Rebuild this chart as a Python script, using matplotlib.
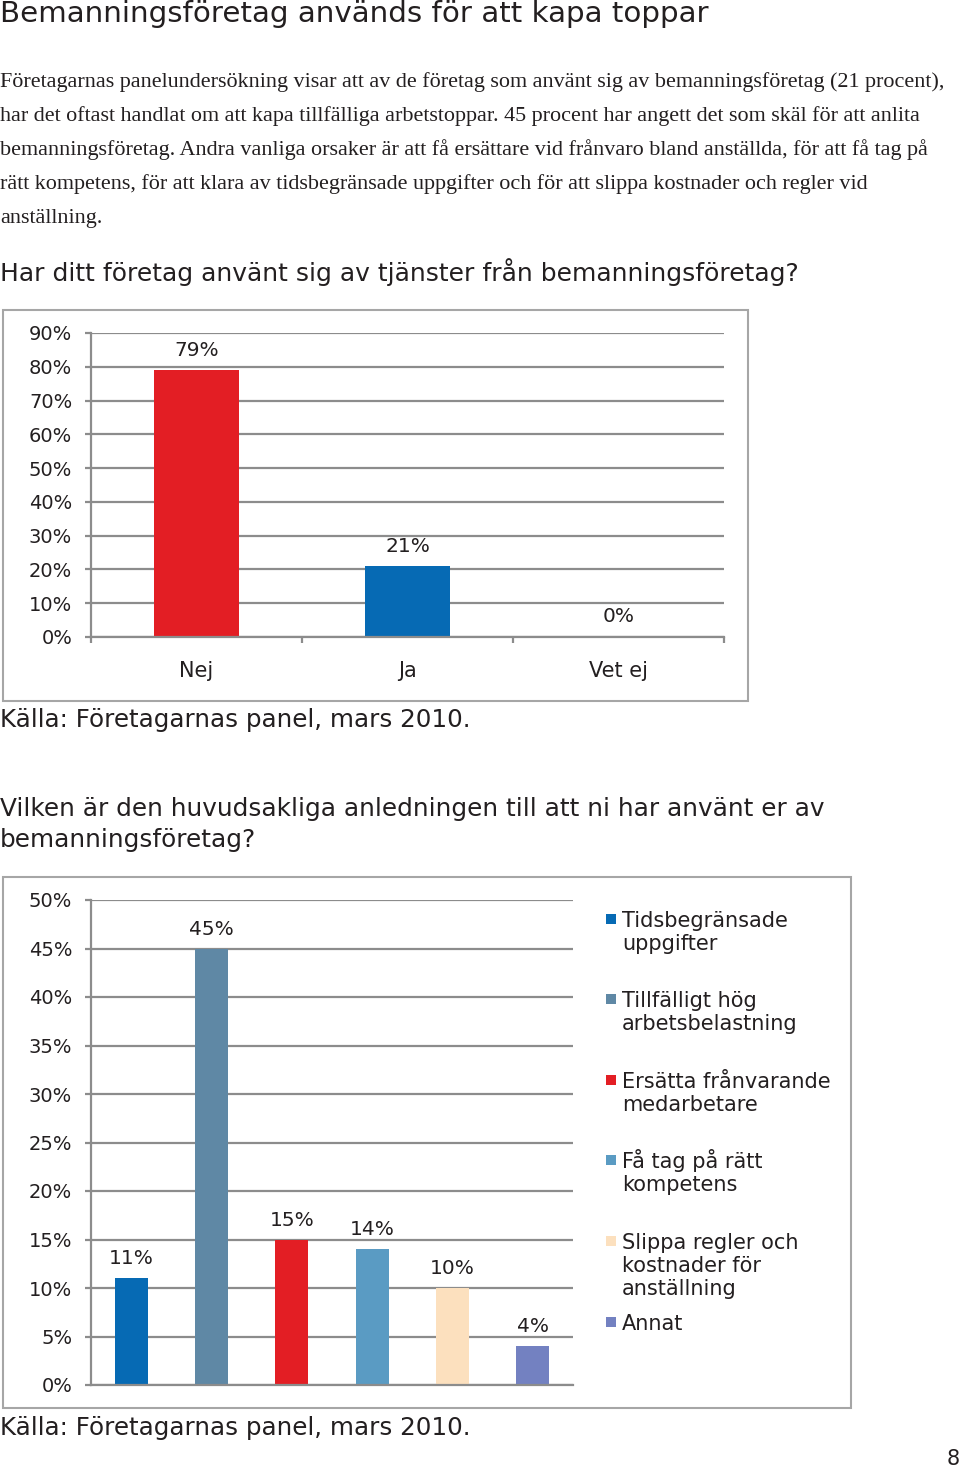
import numpy as np
import matplotlib.pyplot as plt
from matplotlib.patches import Rectangle

W, H = 960, 1468

# chart 1: har ditt företag använt bemanningsföretag?
svar = ["Nej", "Ja", "Vet ej"]
andel_svar = [79, 21, 0]
farg_svar = ["#E31E24", "#066AB4", "#066AB4"]

# chart 2: huvudsaklig anledning
skal = ["Tidsbegränsade\nuppgifter", "Tillfälligt hög\narbetsbelastning",
        "Ersätta frånvarande\nmedarbetare", "Få tag på rätt\nkompetens",
        "Slippa regler och\nkostnader för\nanställning", "Annat"]
andel_skal = [11, 45, 15, 14, 10, 4]
farg_skal = ["#066AB4", "#5F88A5", "#E31E24", "#5A9BC3", "#FCE0BE", "#7381C1"]

stycke = [
    "Företagarnas panelundersökning visar att av de företag som använt sig av bemanningsföretag (21 procent),",
    "har det oftast handlat om att kapa tillfälliga arbetstoppar. 45 procent har angett det som skäl för att anlita",
    "bemanningsföretag. Andra vanliga orsaker är att få ersättare vid frånvaro bland anställda, för att få tag på",
    "rätt kompetens, för att klara av tidsbegränsade uppgifter och för att slippa kostnader och regler vid",
    "anställning.",
]

SANS = "DejaVu Sans"
TXT = "#231F20"
GRID = "#8C8C8C"

plt.rcParams['font.family'] = SANS

fig = plt.figure(figsize=(9.6, 14.68), dpi=100)


def ftext(x, y, s, **kw):
    kw.setdefault("color", TXT)
    kw.setdefault("va", "baseline")
    return fig.text(x / W, 1 - y / H, s, **kw)


def rect(x0, y0, x1, y1):
    return [x0 / W, 1 - y1 / H, (x1 - x0) / W, (y1 - y0) / H]


def box(x0, y0, x1, y1):
    fig.add_artist(Rectangle((x0 / W, 1 - y1 / H), (x1 - x0) / W, (y1 - y0) / H,
                             transform=fig.transFigure, fill=False,
                             ec="#A6A6A6", lw=1.5))


def style(ax, ymax, step):
    ticks = np.arange(0, ymax + 1, step)
    ax.set_ylim(0, ymax)
    ax.set_yticks(ticks)
    ax.set_yticklabels([f"{t}%" for t in ticks])
    ax.yaxis.grid(True, color=GRID, lw=1.6)
    ax.set_axisbelow(True)
    for s in ["top", "right"]:
        ax.spines[s].set_visible(False)
    for s in ["left", "bottom"]:
        ax.spines[s].set_color(GRID)
        ax.spines[s].set_linewidth(1.6)
    ax.tick_params(axis="y", length=4.5, width=1.6, color=GRID,
                   labelsize=14, labelcolor=TXT, pad=9)


# texts
ftext(0, 22, "Bemanningsföretag används för att kapa toppar", fontsize=21.2)
for i, rad in enumerate(stycke):
    ftext(0, 87 + 34 * i, rad, fontsize=15.9, family="Liberation Serif")
ftext(0, 281, "Har ditt företag använt sig av tjänster från bemanningsföretag?", fontsize=18)

# chart 1
box(3, 310, 748, 701)
ax1 = fig.add_axes(rect(91, 333, 724, 637))
x1 = np.arange(len(svar))
ax1.bar(x1, andel_svar, width=0.4, color=farg_svar)
style(ax1, 90, 10)
ax1.set_xlim(-0.5, len(svar) - 0.5)
ax1.set_xticks(x1)
ax1.set_xticklabels(svar)
ax1.set_xticks(np.arange(len(svar) + 1) - 0.5, minor=True)
ax1.tick_params(axis="x", which="major", length=0, labelsize=15, labelcolor=TXT, pad=17)
ax1.tick_params(axis="x", which="minor", length=4.5, width=1.6, color=GRID)
for xi, v in zip(x1, andel_svar):
    ax1.annotate(f"{v}%", (xi, v), xytext=(0, 14.4), textcoords="offset points",
                 ha="center", va="center", fontsize=14.5, color=TXT)
ftext(0, 727, "Källa: Företagarnas panel, mars 2010.", fontsize=17.7)

# chart 2
ftext(0, 816, "Vilken är den huvudsakliga anledningen till att ni har använt er av", fontsize=17.8)
ftext(0, 847, "bemanningsföretag?", fontsize=17.8)
box(3, 877, 851, 1408)
ax2 = fig.add_axes(rect(91, 900, 573, 1385))
x2 = np.arange(len(skal))
ax2.bar(x2, andel_skal, width=0.41, color=farg_skal)
style(ax2, 50, 5)
ax2.set_xlim(-0.5, len(skal) - 0.5)
ax2.set_xticks([])
for xi, v in zip(x2, andel_skal):
    ax2.annotate(f"{v}%", (xi, v), xytext=(0, 14), textcoords="offset points",
                 ha="center", va="center", fontsize=14.5, color=TXT)

# legend
leg_y = [927, 1007, 1088, 1168, 1249, 1330]
for lab, col, y in zip(skal, farg_skal, leg_y):
    fig.add_artist(Rectangle((606 / W, 1 - (y - 3) / H), 10 / W, 10 / H,
                             transform=fig.transFigure, color=col, lw=0))
    for k, rad in enumerate(lab.split("\n")):
        ftext(622, y + 23 * k, rad, fontsize=15)

ftext(0, 1435, "Källa: Företagarnas panel, mars 2010.", fontsize=17.7)
ftext(960, 1465, "8", fontsize=15, ha="right")

fig.savefig("out.png", dpi=100)
